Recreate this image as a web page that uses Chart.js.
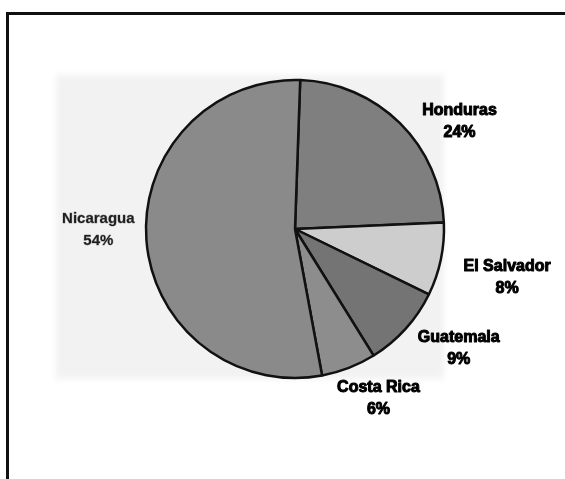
<!DOCTYPE html>
<html>
<head>
<meta charset="utf-8">
<script src="https://cdn.jsdelivr.net/npm/chart.js@4.4.1/dist/chart.umd.min.js"></script>
<style>
  html, body { margin: 0; padding: 0; background: #fff; }
  #wrap { position: relative; width: 565px; height: 479px; overflow: hidden; }
  /* scanned frame, only top and left edges are visible */
  #frame { position: absolute; left: 6px; top: 12px; width: 700px; height: 600px;
           border-top: 3px solid #111; border-left: 3px solid #111; }
  /* faded grey patch behind the pie (scan artefact) */
  #patch { position: absolute; left: 56px; top: 75px; width: 388px; height: 304px;
           background: #f2f2f2; filter: blur(3px); }
  canvas { position: absolute; left: 0; top: 0; }
</style>
</head>
<body>
<div id="wrap">
  <div id="patch"></div>
  <div id="frame"></div>
  <canvas id="pie" width="565" height="479"></canvas>
</div>
<script>
// data
const countries = ['Honduras', 'El Salvador', 'Guatemala', 'Costa Rica', 'Nicaragua'];
const shares = [24, 8, 9, 6, 54];
const sliceColors = ['#7f7f7f', '#cdcdcd', '#747474', '#8d8d8d', '#8a8a8a'];

// label placement tweaks: [angle shift in degrees, distance as multiple of radius]
const labelTweak = {
  'Honduras': [12, 1.32],
  'El Salvador': [1, 1.46],
  'Guatemala': [-6, 1.36],
  'Costa Rica': [-5, 1.27],
  'Nicaragua': [4, 1.32]
};

const outsideLabels = {
  id: 'outsideLabels',
  afterDatasetsDraw(chart) {
    const ctx = chart.ctx;
    const meta = chart.getDatasetMeta(0);
    ctx.save();
    ctx.textAlign = 'center';
    ctx.textBaseline = 'middle';
    ctx.lineJoin = 'round';
    meta.data.forEach((arc, i) => {
      const name = chart.data.labels[i];
      const t = labelTweak[name] || [0, 1.3];
      const mid = (arc.startAngle + arc.endAngle) / 2 + t[0] * Math.PI / 180;
      const d = arc.outerRadius * t[1];
      const x = arc.x + Math.cos(mid) * d;
      const y = arc.y + Math.sin(mid) * d;
      const pct = chart.data.datasets[0].data[i] + '%';
      if (name === 'Nicaragua') {
        // this one sits in the faded patch, softer in the scan
        ctx.fillStyle = '#1e1e1e';
        ctx.strokeStyle = 'rgba(30,30,30,0.35)';
        ctx.lineWidth = 0.8;
        ctx.font = 'bold 15px "Liberation Sans", Arial, sans-serif';
      } else {
        // heavier look of the scanned labels
        ctx.fillStyle = '#000';
        ctx.strokeStyle = '#000';
        ctx.lineWidth = 1;
        ctx.font = 'bold 16px "Liberation Sans", Arial, sans-serif';
      }
      ctx.strokeText(name, x, y - 11);
      ctx.strokeText(pct, x, y + 11);
      ctx.fillText(name, x, y - 11);
      ctx.fillText(pct, x, y + 11);
    });
    ctx.restore();
  }
};

new Chart(document.getElementById('pie'), {
  type: 'pie',
  data: {
    labels: countries,
    datasets: [{
      data: shares,
      backgroundColor: sliceColors,
      borderColor: '#111',
      borderWidth: 2.5
    }]
  },
  options: {
    responsive: false,
    animation: false,
    rotation: 2,
    radius: 149,
    layout: { padding: { left: 25, right: 0, top: 0, bottom: 21 } },
    plugins: {
      legend: { display: false },
      tooltip: { enabled: false }
    }
  },
  plugins: [outsideLabels]
});
</script>
</body>
</html>
